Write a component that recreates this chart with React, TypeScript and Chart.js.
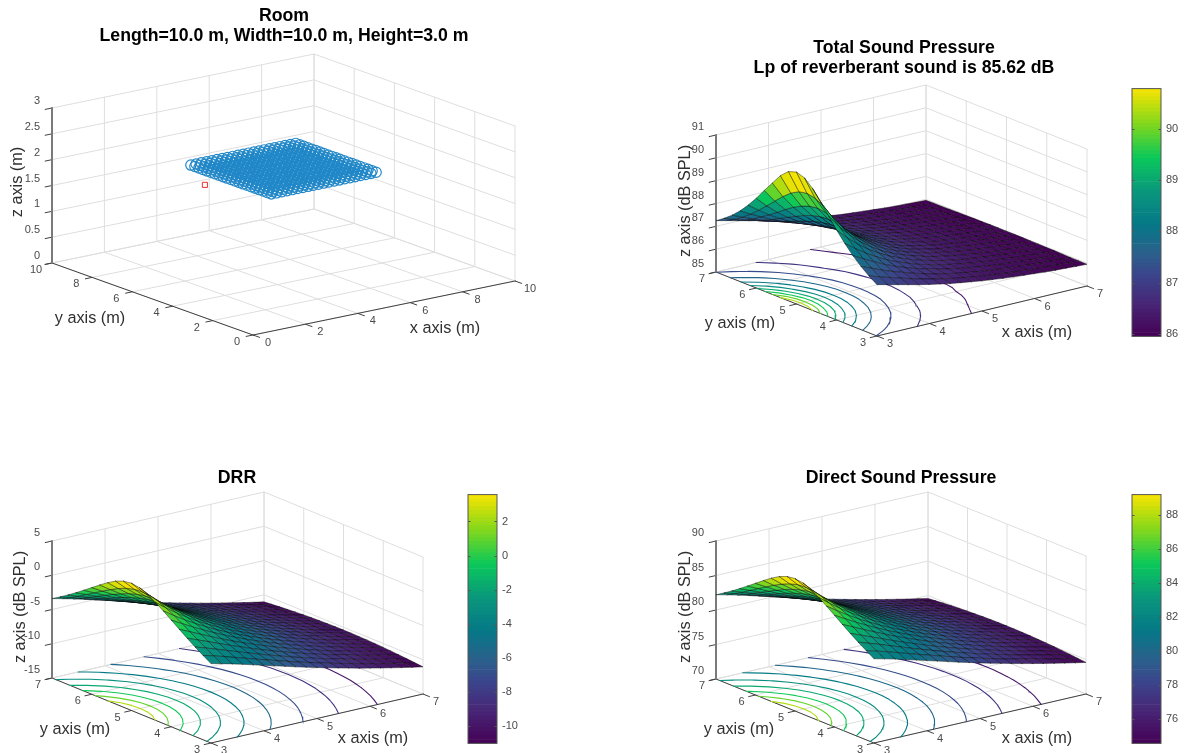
import React, { useEffect, useRef } from "react";
import { Chart, registerables } from "chart.js";

Chart.register(...registerables);
Chart.defaults.font.family = '"Liberation Sans", Arial, sans-serif';

// ---------- data ----------
const gridX = [3, 3.2, 3.4, 3.6, 3.8, 4, 4.2, 4.4, 4.6, 4.8, 5, 5.2, 5.4, 5.6, 5.8, 6, 6.2, 6.4, 6.6, 6.8, 7];
const gridY = [3, 3.2, 3.4, 3.6, 3.8, 4, 4.2, 4.4, 4.6, 4.8, 5, 5.2, 5.4, 5.6, 5.8, 6, 6.2, 6.4, 6.6, 6.8, 7];
// rows run from the room-side edge (y=3) to the centre line (y=5); the field is mirrored about y=5
const rowForY = [0, 1, 2, 3, 4, 5, 6, 7, 8, 9, 10, 9, 8, 7, 6, 5, 4, 3, 2, 1, 0];

const totalRows = [
  [87.25, 87.14, 87.03, 86.92, 86.81, 86.71, 86.62, 86.53, 86.46, 86.39, 86.32, 86.27, 86.21, 86.17, 86.13, 86.09, 86.05, 86.02, 86.0, 85.97, 85.95],
  [87.49, 87.34, 87.2, 87.07, 86.93, 86.81, 86.7, 86.6, 86.51, 86.43, 86.36, 86.3, 86.24, 86.19, 86.15, 86.11, 86.07, 86.04, 86.01, 85.98, 85.96],
  [87.77, 87.58, 87.39, 87.22, 87.07, 86.92, 86.79, 86.67, 86.57, 86.48, 86.4, 86.33, 86.27, 86.21, 86.17, 86.13, 86.09, 86.05, 86.02, 85.99, 85.96],
  [88.1, 87.85, 87.62, 87.39, 87.2, 87.03, 86.88, 86.74, 86.63, 86.53, 86.44, 86.37, 86.3, 86.24, 86.18, 86.14, 86.1, 86.06, 86.03, 86.0, 85.97],
  [88.49, 88.16, 87.85, 87.58, 87.34, 87.14, 86.97, 86.81, 86.69, 86.57, 86.48, 86.4, 86.32, 86.26, 86.2, 86.16, 86.12, 86.07, 86.04, 86.01, 85.98],
  [88.93, 88.49, 88.1, 87.77, 87.49, 87.25, 87.06, 86.88, 86.74, 86.62, 86.51, 86.42, 86.34, 86.28, 86.22, 86.17, 86.13, 86.08, 86.04, 86.01, 85.98],
  [89.41, 88.84, 88.36, 87.95, 87.63, 87.35, 87.13, 86.95, 86.79, 86.66, 86.54, 86.45, 86.37, 86.29, 86.23, 86.18, 86.13, 86.09, 86.05, 86.02, 85.99],
  [89.88, 89.18, 88.6, 88.13, 87.75, 87.45, 87.2, 87.0, 86.83, 86.69, 86.57, 86.47, 86.38, 86.31, 86.24, 86.18, 86.14, 86.1, 86.05, 86.02, 85.99],
  [90.34, 89.47, 88.79, 88.27, 87.85, 87.52, 87.25, 87.04, 86.86, 86.71, 86.58, 86.48, 86.38, 86.32, 86.25, 86.19, 86.15, 86.1, 86.06, 86.02, 86.0],
  [90.66, 89.67, 88.93, 88.36, 87.91, 87.57, 87.28, 87.07, 86.88, 86.72, 86.59, 86.49, 86.4, 86.32, 86.26, 86.19, 86.15, 86.1, 86.06, 86.03, 86.0],
  [90.78, 89.74, 88.98, 88.39, 87.93, 87.58, 87.29, 87.07, 86.88, 86.73, 86.6, 86.5, 86.4, 86.32, 86.26, 86.2, 86.15, 86.11, 86.06, 86.03, 86.0],
];
const drrRows = [
  [-3.41, -3.78, -4.17, -4.59, -5.02, -5.45, -5.88, -6.31, -6.74, -7.15, -7.56, -7.96, -8.34, -8.71, -9.08, -9.43, -9.77, -10.1, -10.43, -10.74, -11.04],
  [-2.69, -3.12, -3.58, -4.05, -4.54, -5.02, -5.49, -5.96, -6.42, -6.87, -7.3, -7.72, -8.12, -8.52, -8.89, -9.26, -9.62, -9.96, -10.29, -10.62, -10.93],
  [-1.93, -2.44, -2.97, -3.51, -4.05, -4.59, -5.11, -5.62, -6.11, -6.59, -7.05, -7.49, -7.92, -8.33, -8.72, -9.11, -9.47, -9.83, -10.17, -10.5, -10.82],
  [-1.13, -1.73, -2.35, -2.97, -3.58, -4.17, -4.75, -5.3, -5.83, -6.33, -6.82, -7.28, -7.73, -8.16, -8.57, -8.96, -9.34, -9.71, -10.06, -10.4, -10.73],
  [-0.29, -1.01, -1.73, -2.44, -3.12, -3.78, -4.4, -4.99, -5.56, -6.1, -6.61, -7.09, -7.56, -8.0, -8.43, -8.84, -9.23, -9.6, -9.96, -10.31, -10.64],
  [0.57, -0.29, -1.13, -1.93, -2.69, -3.41, -4.08, -4.72, -5.32, -5.88, -6.42, -6.93, -7.41, -7.87, -8.31, -8.72, -9.12, -9.51, -9.88, -10.23, -10.57],
  [1.43, 0.4, -0.57, -1.47, -2.31, -3.09, -3.81, -4.48, -5.11, -5.7, -6.26, -6.79, -7.28, -7.76, -8.2, -8.63, -9.04, -9.43, -9.8, -10.16, -10.51],
  [2.24, 1.03, -0.07, -1.07, -1.98, -2.81, -3.58, -4.29, -4.94, -5.56, -6.13, -6.67, -7.18, -7.67, -8.12, -8.56, -8.97, -9.37, -9.75, -10.11, -10.46],
  [2.94, 1.54, 0.32, -0.77, -1.73, -2.61, -3.41, -4.14, -4.82, -5.45, -6.04, -6.59, -7.11, -7.6, -8.06, -8.5, -8.92, -9.32, -9.71, -10.07, -10.43],
  [3.41, 1.88, 0.57, -0.57, -1.58, -2.48, -3.3, -4.05, -4.75, -5.39, -5.98, -6.54, -7.06, -7.56, -8.03, -8.47, -8.89, -9.3, -9.68, -10.05, -10.41],
  [3.58, 2.0, 0.66, -0.5, -1.53, -2.44, -3.27, -4.02, -4.72, -5.36, -5.96, -6.52, -7.05, -7.55, -8.02, -8.46, -8.89, -9.29, -9.68, -10.04, -10.4],
];
const directRows = [
  [82.21, 81.84, 81.45, 81.03, 80.6, 80.17, 79.74, 79.31, 78.88, 78.47, 78.06, 77.66, 77.28, 76.91, 76.54, 76.19, 75.85, 75.52, 75.19, 74.88, 74.58],
  [82.93, 82.5, 82.04, 81.57, 81.08, 80.6, 80.13, 79.66, 79.2, 78.75, 78.32, 77.9, 77.5, 77.1, 76.73, 76.36, 76.0, 75.66, 75.33, 75.0, 74.69],
  [83.69, 83.18, 82.65, 82.11, 81.57, 81.03, 80.51, 80.0, 79.51, 79.03, 78.57, 78.13, 77.7, 77.29, 76.9, 76.51, 76.15, 75.79, 75.45, 75.12, 74.8],
  [84.49, 83.89, 83.27, 82.65, 82.04, 81.45, 80.87, 80.32, 79.79, 79.29, 78.8, 78.34, 77.89, 77.46, 77.05, 76.66, 76.28, 75.91, 75.56, 75.22, 74.89],
  [85.33, 84.61, 83.89, 83.18, 82.5, 81.84, 81.22, 80.63, 80.06, 79.52, 79.01, 78.53, 78.06, 77.62, 77.19, 76.78, 76.39, 76.02, 75.66, 75.31, 74.98],
  [86.19, 85.33, 84.49, 83.69, 82.93, 82.21, 81.54, 80.9, 80.3, 79.74, 79.2, 78.69, 78.21, 77.75, 77.31, 76.9, 76.5, 76.11, 75.74, 75.39, 75.05],
  [87.05, 86.02, 85.05, 84.15, 83.31, 82.53, 81.81, 81.14, 80.51, 79.92, 79.36, 78.83, 78.34, 77.86, 77.42, 76.99, 76.58, 76.19, 75.82, 75.46, 75.11],
  [87.86, 86.65, 85.55, 84.55, 83.64, 82.81, 82.04, 81.33, 80.68, 80.06, 79.49, 78.95, 78.44, 77.95, 77.5, 77.06, 76.65, 76.25, 75.87, 75.51, 75.16],
  [88.56, 87.16, 85.94, 84.85, 83.89, 83.01, 82.21, 81.48, 80.8, 80.17, 79.58, 79.03, 78.51, 78.02, 77.56, 77.12, 76.7, 76.3, 75.91, 75.55, 75.19],
  [89.03, 87.5, 86.19, 85.05, 84.04, 83.14, 82.32, 81.57, 80.87, 80.23, 79.64, 79.08, 78.56, 78.06, 77.59, 77.15, 76.73, 76.32, 75.94, 75.57, 75.21],
  [89.2, 87.62, 86.28, 85.12, 84.09, 83.18, 82.35, 81.6, 80.9, 80.26, 79.66, 79.1, 78.57, 78.07, 77.6, 77.16, 76.73, 76.33, 75.94, 75.58, 75.22],
];

const totalLevels = [86.39, 86.83, 87.27, 87.71, 88.15, 88.59, 89.02, 89.46, 89.9, 90.34];
const drrLevels = [-9.67, -8.35, -7.02, -5.69, -4.37, -3.04, -1.72, -0.39, 0.94, 2.26];
const directLevels = [75.93, 77.25, 78.58, 79.91, 81.23, 82.56, 83.88, 85.21, 86.54, 87.86];

const roomTicks = [0, 2, 4, 6, 8, 10];
const roomHeightTicks = [0, 0.5, 1, 1.5, 2, 2.5, 3];
const fieldTicks = [3, 4, 5, 6, 7];
const totalZTicks = [85, 86, 87, 88, 89, 90, 91];
const drrZTicks = [-15, -10, -5, 0, 5];
const directZTicks = [70, 75, 80, 85, 90];
const receiverX = gridX;
const receiverY = gridY;
const receiverHeight = 2;
const sourcePosition = [2, 5, 2];

const totalBar = { min: 85.95, max: 90.78, step: 1 };
const drrBar = { min: -11.04, max: 3.58, step: 2 };
const directBar = { min: 74.58, max: 89.2, step: 2 };

// colormap stops
const cmapStops: [number, number, number, number][] = [
  [0, 68, 1, 84], [0.13, 72, 38, 119], [0.25, 58, 70, 140], [0.33, 44, 95, 140],
  [0.45, 5, 120, 135], [0.58, 10, 150, 125], [0.72, 10, 200, 90], [0.85, 125, 215, 30], [1, 250, 228, 0],
];
const CMAP_STEPS = 64;
function cmapAt(t: number) {
  let k = 0;
  while (k < cmapStops.length - 2 && t > cmapStops[k + 1][0]) k++;
  const a = cmapStops[k], b = cmapStops[k + 1];
  const f = (t - a[0]) / (b[0] - a[0]);
  const c = [1, 2, 3].map((n) => Math.round(a[n] + (b[n] - a[n]) * f));
  return `rgb(${c[0]},${c[1]},${c[2]})`;
}
function colorFor(v: number, min: number, max: number) {
  const idx = Math.min(CMAP_STEPS - 1, Math.max(0, Math.floor(((v - min) / (max - min)) * CMAP_STEPS)));
  return cmapAt((idx + 0.5) / CMAP_STEPS);
}

// ---------- panels: canvas box and box-corner placement ----------
type Panel = any;
const panels: Panel[] = [
  {
    key: "room", left: 0, top: 0, width: 568, height: 376, title: ["Room", "Length=10.0 m, Width=10.0 m, Height=3.0 m"],
    xr: [0, 10], yr: [0, 10], zr: [0, 3], xt: roomTicks, yt: roomTicks, zt: roomHeightTicks, zLabel: "z axis (m)",
    front: [253, 335], right: [515, 281], leftC: [52, 263], zh: 155,
    zOff: [-12, -7], yOff: [-16, 7], xOff: [15, 8],
    xLab: [445, 329], yLab: [90, 319], zLab: [18, 182],
  },
  {
    key: "total", left: 670, top: 32, width: 468, height: 340, title: ["Total Sound Pressure", "Lp of reverberant sound is 85.62 dB"],
    xr: [3, 7], yr: [3, 7], zr: [85, 91], xt: fieldTicks, yt: fieldTicks, zt: totalZTicks, zLabel: "z axis (dB SPL)",
    front: [877, 336], right: [1087, 286], leftC: [716, 272], zh: 137,
    rows: totalRows, levels: totalLevels, bar: totalBar,
    zOff: [-12, -8], yOff: [-14, 7], xOff: [13, 8],
    xLab: [1037, 333], yLab: [740, 324], zLab: [685.5, 201],
  },
  {
    key: "drr", left: 0, top: 462, width: 474, height: 291, title: ["DRR"],
    xr: [3, 7], yr: [3, 7], zr: [-15, 5], xt: fieldTicks, yt: fieldTicks, zt: drrZTicks, zLabel: "z axis (dB SPL)",
    front: [211, 743], right: [423, 694], leftC: [52, 678], zh: 137,
    rows: drrRows, levels: drrLevels, bar: drrBar,
    zOff: [-12, -8], yOff: [-14, 7], xOff: [13, 8],
    xLab: [373, 739], yLab: [75, 730], zLab: [21, 607],
  },
  {
    key: "direct", left: 667, top: 462, width: 468, height: 291, title: ["Direct Sound Pressure"],
    xr: [3, 7], yr: [3, 7], zr: [70, 90], xt: fieldTicks, yt: fieldTicks, zt: directZTicks, zLabel: "z axis (dB SPL)",
    front: [874, 743], right: [1086, 694], leftC: [716, 679], zh: 138,
    rows: directRows, levels: directLevels, bar: directBar,
    zOff: [-12, -8], yOff: [-14, 7], xOff: [13, 8],
    xLab: [1037, 739], yLab: [739, 730], zLab: [685.5, 607],
  },
];
const barBoxes: any = {
  total: { left: 1131, top: 77, height: 271 },
  drr: { left: 467, top: 483, height: 272 },
  direct: { left: 1131, top: 483, height: 272 },
};

const GRID = "#dedede";
const AXIS = "#404040";
const SANS = '"Liberation Sans", Arial, sans-serif';

function projector(p: Panel) {
  const { xr, yr, zr, front, right, leftC, zh, left, top } = p;
  return (x: number, y: number, z: number) => {
    const u = (x - xr[0]) / (xr[1] - xr[0]);
    const v = (y - yr[0]) / (yr[1] - yr[0]);
    const w = (z - zr[0]) / (zr[1] - zr[0]);
    return {
      x: front[0] + u * (right[0] - front[0]) + v * (leftC[0] - front[0]) - left,
      y: front[1] + u * (right[1] - front[1]) + v * (leftC[1] - front[1]) - w * zh - top,
    };
  };
}
const GAP = { x: NaN, y: NaN };

function lineSet(data: any[], color: string, width: number, order: number) {
  return {
    data, showLine: true, fill: false, pointRadius: 0, borderColor: color, borderWidth: width,
    order, clip: false, tension: 0, borderCapStyle: "round",
  };
}

function contourSegments(rows: number[][], level: number, proj: any, floor: number) {
  const out: any[] = [];
  const z = (i: number, j: number) => rows[rowForY[j]][i];
  for (let j = 0; j < gridY.length - 1; j++) {
    for (let i = 0; i < gridX.length - 1; i++) {
      const corners = [
        [gridX[i], gridY[j], z(i, j)],
        [gridX[i + 1], gridY[j], z(i + 1, j)],
        [gridX[i + 1], gridY[j + 1], z(i + 1, j + 1)],
        [gridX[i], gridY[j + 1], z(i, j + 1)],
      ];
      const hits: any[] = [];
      for (let k = 0; k < 4; k++) {
        const a = corners[k], b = corners[(k + 1) % 4];
        if (a[2] < level !== b[2] < level) {
          const f = (level - a[2]) / (b[2] - a[2]);
          hits.push(proj(a[0] + (b[0] - a[0]) * f, a[1] + (b[1] - a[1]) * f, floor));
        }
      }
      for (let h = 0; h + 1 < hits.length; h += 2) out.push(hits[h], hits[h + 1], GAP);
    }
  }
  return out;
}

function buildDatasets(p: Panel) {
  const proj = projector(p);
  const { xr, yr, zr, xt, yt, zt } = p;
  const sets: any[] = [];
  // grid on the floor and two back walls
  const grid: any[] = [];
  xt.forEach((x: number) => {
    grid.push(proj(x, yr[0], zr[0]), proj(x, yr[1], zr[0]), proj(x, yr[1], zr[1]), GAP);
  });
  yt.forEach((y: number) => {
    grid.push(proj(xr[0], y, zr[0]), proj(xr[1], y, zr[0]), proj(xr[1], y, zr[1]), GAP);
  });
  zt.forEach((z: number) => {
    grid.push(proj(xr[0], yr[1], z), proj(xr[1], yr[1], z), proj(xr[1], yr[0], z), GAP);
  });
  sets.push(lineSet(grid, GRID, 1, 100));
  // axes and ticks
  const dirX = (() => {
    const a = proj(xr[0], yr[0], zr[0]), b = proj(xr[1], yr[0], zr[0]);
    const d = Math.hypot(b.x - a.x, b.y - a.y);
    return { x: (b.x - a.x) / d, y: (b.y - a.y) / d };
  })();
  const dirY = (() => {
    const a = proj(xr[0], yr[0], zr[0]), b = proj(xr[0], yr[1], zr[0]);
    const d = Math.hypot(b.x - a.x, b.y - a.y);
    return { x: (b.x - a.x) / d, y: (b.y - a.y) / d };
  })();
  const TICK = 7;
  const axes: any[] = [proj(xr[0], yr[1], zr[0]), proj(xr[0], yr[0], zr[0]), proj(xr[1], yr[0], zr[0]), GAP];
  xt.forEach((x: number) => {
    const q = proj(x, yr[0], zr[0]);
    axes.push(q, { x: q.x - dirY.x * TICK, y: q.y - dirY.y * TICK }, GAP);
  });
  yt.forEach((y: number) => {
    const q = proj(xr[0], y, zr[0]);
    axes.push(q, { x: q.x - dirX.x * TICK, y: q.y - dirX.y * TICK }, GAP);
  });
  zt.forEach((z: number) => {
    const q = proj(xr[0], yr[1], z);
    axes.push(q, { x: q.x - dirX.x * TICK, y: q.y - dirX.y * TICK }, GAP);
  });
  sets.push(lineSet(axes, AXIS, 1, 90));
  sets.push(lineSet([proj(xr[0], yr[1], zr[0]), proj(xr[0], yr[1], zr[1])], "#7a7a7a", 2, 89));

  if (p.rows) {
    const { min, max } = p.bar;
    p.levels.forEach((lv: number) => {
      sets.push(lineSet(contourSegments(p.rows, lv, proj, zr[0]), colorFor(lv, min, max), 1.1, 80));
    });
    const z = (i: number, j: number) => p.rows[rowForY[j]][i];
    for (let i = 0; i < gridX.length - 1; i++) {
      for (let j = 0; j < gridY.length - 1; j++) {
        const vals = [z(i, j), z(i + 1, j), z(i + 1, j + 1), z(i, j + 1)];
        const pts = [
          proj(gridX[i], gridY[j], vals[0]),
          proj(gridX[i + 1], gridY[j], vals[1]),
          proj(gridX[i + 1], gridY[j + 1], vals[2]),
          proj(gridX[i], gridY[j + 1], vals[3]),
        ];
        pts.push(pts[0]);
        sets.push({
          ...lineSet(pts, "rgba(10,10,10,0.72)", 0.6, 10 + (i + j)),
          fill: "shape",
          backgroundColor: colorFor(vals[0], min, max),
        });
      }
    }
  } else {
    const pts: any[] = [];
    receiverX.forEach((x) => receiverY.forEach((y) => pts.push(proj(x, y, receiverHeight))));
    sets.push({
      data: pts, showLine: false, pointStyle: "circle", pointRadius: 5.2, pointBorderWidth: 1.2,
      pointBorderColor: "#2288c8", pointBackgroundColor: "rgba(0,0,0,0)", order: 20, clip: false,
    });
    sets.push({
      data: [proj(sourcePosition[0], sourcePosition[1], sourcePosition[2])], showLine: false,
      pointStyle: "rect", pointRadius: 3.6, pointBorderWidth: 1, pointBorderColor: "#f03030",
      pointBackgroundColor: "rgba(0,0,0,0)", order: 5, clip: false,
    });
  }
  return sets;
}

function decorPlugin(p: Panel) {
  const proj = projector(p);
  const { xr, yr, zr, xt, yt, zt } = p;
  return {
    id: "decor" + p.key,
    afterDatasetsDraw(chart: any) {
      const { ctx } = chart;
      const sx = chart.scales.x, sy = chart.scales.y;
      const put = (t: string, q: any, align: CanvasTextAlign) => {
        ctx.textAlign = align;
        ctx.fillText(t, sx.getPixelForValue(q.x), sy.getPixelForValue(q.y));
      };
      ctx.save();
      ctx.textBaseline = "middle";
      ctx.fillStyle = "#4a4a4a";
      ctx.font = `11px ${SANS}`;
      zt.forEach((z: number) => {
        const q = proj(xr[0], yr[1], z);
        put(String(z), { x: q.x + p.zOff[0], y: q.y + p.zOff[1] }, "right");
      });
      yt.forEach((y: number) => {
        const q = proj(xr[0], y, zr[0]);
        put(String(y), { x: q.x + p.yOff[0], y: q.y + p.yOff[1] }, "center");
      });
      xt.forEach((x: number) => {
        const q = proj(x, yr[0], zr[0]);
        put(String(x), { x: q.x + p.xOff[0], y: q.y + p.xOff[1] }, "center");
      });
      ctx.fillStyle = "#303030";
      ctx.font = `16.3px ${SANS}`;
      put("x axis (m)", { x: p.xLab[0] - p.left, y: p.xLab[1] - p.top }, "center");
      put("y axis (m)", { x: p.yLab[0] - p.left, y: p.yLab[1] - p.top }, "center");
      ctx.translate(sx.getPixelForValue(p.zLab[0] - p.left), sy.getPixelForValue(p.zLab[1] - p.top));
      ctx.rotate(-Math.PI / 2);
      ctx.textAlign = "center";
      ctx.fillText(p.zLabel, 0, 0);
      ctx.restore();
    },
  };
}

function PanelChart({ p }: { p: Panel }) {
  const ref = useRef<HTMLCanvasElement>(null);
  useEffect(() => {
    const lines = p.title.length;
    const titleFont = 17.7;
    const lineHeight = 20 / titleFont;
    const padTop = 6.5;
    const titleBox = lines * (lineHeight * titleFont) + padTop;
    const chart = new Chart(ref.current as any, {
      type: "scatter",
      data: { datasets: buildDatasets(p) },
      plugins: [decorPlugin(p)],
      options: {
        animation: false,
        responsive: false,
        events: [],
        layout: { padding: 0, autoPadding: false },
        plugins: {
          legend: { display: false },
          tooltip: { enabled: false },
          title: {
            display: true,
            text: lines > 1 ? p.title : p.title[0],
            color: "#000",
            font: { size: titleFont, weight: "bold", lineHeight, family: SANS },
            padding: { top: padTop, bottom: 0 },
          },
        },
        scales: {
          x: { type: "linear", display: false, min: 0, max: p.width },
          y: { type: "linear", display: false, reverse: true, min: titleBox, max: p.height },
        },
      },
    } as any);
    return () => chart.destroy();
  }, [p]);
  return (
    <canvas ref={ref} width={p.width} height={p.height}
      style={{ position: "absolute", left: p.left, top: p.top, width: p.width, height: p.height }} />
  );
}

function ColorBar({ p }: { p: Panel }) {
  const ref = useRef<HTMLCanvasElement>(null);
  const box = barBoxes[p.key];
  useEffect(() => {
    const { min, max, step } = p.bar;
    const sets: any[] = [];
    for (let k = 0; k < CMAP_STEPS; k++) {
      const lo = min + ((max - min) * k) / CMAP_STEPS;
      const hi = min + ((max - min) * (k + 1)) / CMAP_STEPS;
      sets.push({
        data: [[lo, hi]], backgroundColor: cmapAt((k + 0.5) / CMAP_STEPS), borderWidth: 0,
        grouped: false, barPercentage: 1, categoryPercentage: 1,
      });
    }
    const frame = {
      id: "frame" + p.key,
      afterDatasetsDraw(chart: any) {
        const { ctx, chartArea: a } = chart;
        ctx.save();
        ctx.strokeStyle = "#555";
        ctx.lineWidth = 1;
        ctx.strokeRect(a.left, a.top, a.right - a.left, a.bottom - a.top);
        chart.scales.y.ticks.forEach((t: any) => {
          const yy = Math.round(chart.scales.y.getPixelForValue(t.value)) + 0.5;
          ctx.beginPath();
          ctx.moveTo(a.left, yy); ctx.lineTo(a.left + 2.5, yy);
          ctx.moveTo(a.right, yy); ctx.lineTo(a.right - 2.5, yy);
          ctx.stroke();
        });
        ctx.restore();
      },
    };
    const chart = new Chart(ref.current as any, {
      type: "bar",
      data: { labels: [""], datasets: sets },
      plugins: [frame],
      options: {
        animation: false,
        responsive: false,
        events: [],
        layout: { padding: { left: 1, right: 0, top: 8, bottom: 8 }, autoPadding: false },
        plugins: { legend: { display: false }, tooltip: { enabled: false }, title: { display: false } },
        scales: {
          x: { display: false },
          y: {
            type: "linear", position: "right", min, max,
            grid: { display: false, drawTicks: false },
            border: { display: false },
            afterFit: (s: any) => { s.width = 23; },
            ticks: {
              stepSize: step, includeBounds: false, padding: 5, color: "#4a4a4a",
              font: { size: 11, family: SANS }, callback: (v: any) => String(v),
            },
          },
        },
      },
    } as any);
    return () => chart.destroy();
  }, [p]);
  return (
    <canvas ref={ref} width={53} height={box.height}
      style={{ position: "absolute", left: box.left, top: box.top, width: 53, height: box.height }} />
  );
}

export default function App() {
  return (
    <div style={{ position: "fixed", left: 0, top: 0, width: 1184, height: 753, background: "#fff", overflow: "hidden" }}>
      {panels.map((p) => <PanelChart key={p.key} p={p} />)}
      {panels.filter((p) => p.bar).map((p) => <ColorBar key={p.key + "bar"} p={p} />)}
    </div>
  );
}
